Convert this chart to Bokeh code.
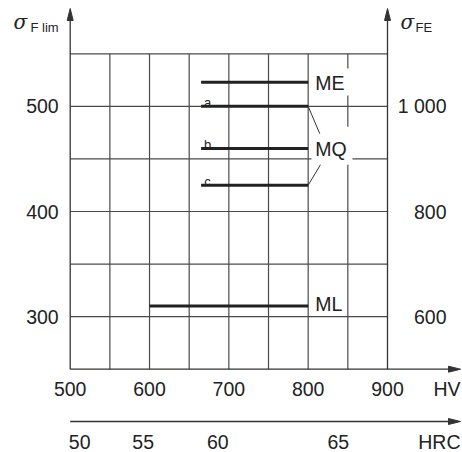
from bokeh.plotting import figure
from bokeh.models import Range1d
from bokeh.core.properties import value
from bokeh.embed import file_html
from bokeh.resources import INLINE

# ---------------- data ----------------
hv_grid = [500, 550, 600, 650, 700, 750, 800, 850, 900]
sigma_grid = [300, 350, 400, 450, 500, 550]
hv_ticks = [500, 600, 700, 800, 900]
sigma_ticks = [300, 400, 500]
sigma_fe_ticks = ["600", "800", "1 000"]
hrc_labels = ["50", "55", "60", "65"]
hrc_at_hv = [512, 592, 686, 838]

band_names = ["ME", "a", "b", "c", "ML"]
hv_from = [665, 665, 665, 665, 600]
hv_to = [800, 800, 800, 800, 800]
sigma_level = [523, 500, 460, 425, 310]

# ---------------- layout ----------------
W, H = 462, 452
PPX = 317.3 / 400.0       # px per HV
PPS = 315.4 / 300.0       # px per MPa
X0 = 500 - 69.7 / PPX
X1 = X0 + W / PPX
Y1 = 550 + 53.3 / PPS
Y0 = Y1 - H / PPS


def dx(px):
    return px / PPX


def dy(px):
    return px / PPS


FONT = value("Liberation Sans")
TC = "#222222"
GC = "#4a4a4a"
FS = "19.5px"

p = figure(width=W, height=H, x_range=Range1d(X0, X1), y_range=Range1d(Y0, Y1),
           output_backend="svg", toolbar_location=None, min_border=0,
           x_axis_type=None, y_axis_type=None, outline_line_color=None,
           background_fill_color="white", border_fill_color="white")
p.grid.visible = False

xmin, xmax = hv_grid[0], hv_grid[-1]
ymin = 250
ymax = sigma_grid[-1]
x_tip = X1 - dx(2)
y_tip = Y1 - dy(8)
hrc_y = ymin - dy(52.3)

# grid
p.segment(x0=hv_grid[1:-1], x1=hv_grid[1:-1], y0=[ymin] * 7, y1=[ymax] * 7,
          line_color=GC, line_width=1.2)
p.segment(x0=[xmin] * len(sigma_grid), x1=[xmax] * len(sigma_grid),
          y0=sigma_grid, y1=sigma_grid, line_color=GC, line_width=1.2)

# axes
AC = "#333333"
ah_len, ah_w = 12, 6
p.segment(x0=[xmin, xmax], x1=[xmin, xmax], y0=[ymin, ymin],
          y1=[y_tip - dy(ah_len - 1)] * 2, line_color=AC, line_width=1.3)
p.segment(x0=[xmin, xmin], x1=[x_tip - dx(ah_len - 1)] * 2, y0=[ymin, hrc_y],
          y1=[ymin, hrc_y], line_color=AC, line_width=1.3)
# arrow heads
p.patches(
    xs=[[xmin - dx(ah_w / 2), xmin + dx(ah_w / 2), xmin],
        [xmax - dx(ah_w / 2), xmax + dx(ah_w / 2), xmax],
        [x_tip - dx(ah_len), x_tip - dx(ah_len), x_tip],
        [x_tip - dx(ah_len), x_tip - dx(ah_len), x_tip]],
    ys=[[y_tip - dy(ah_len), y_tip - dy(ah_len), y_tip],
        [y_tip - dy(ah_len), y_tip - dy(ah_len), y_tip],
        [ymin - dy(ah_w / 2), ymin + dy(ah_w / 2), ymin],
        [hrc_y - dy(ah_w / 2), hrc_y + dy(ah_w / 2), hrc_y]],
    fill_color=AC, line_color=AC, line_width=1)

# white boxes behind labels ME / MQ
me_y = sigma_level[0]
mq_y = sigma_level[2]
p.quad(left=[800 + dx(3.5), 800 + dx(3.3)], right=[800 + dx(43), 800 + dx(44.3)],
       top=[me_y + dy(13.7), mq_y + dy(21.7)], bottom=[me_y - dy(13.3), mq_y - dy(16.3)],
       fill_color="white", line_color=None)

# material bands
p.segment(x0=hv_from, x1=hv_to, y0=sigma_level, y1=sigma_level,
          line_color=TC, line_width=3)

# leaders to MQ
p.segment(x0=[hv_to[1], hv_to[3]], y0=[sigma_level[1], sigma_level[3]],
          x1=[800 + dx(11.6), 800 + dx(12.3)], y1=[mq_y + dy(14.7), mq_y - dy(16.3)],
          line_color=AC, line_width=1)

# band labels
p.text(x=[800, 800, 800], y=[me_y, mq_y, sigma_level[4]], text=["ME", "MQ", "ML"],
       x_offset=7, y_offset=[1, 1, -2], text_font=FONT, text_font_size=FS,
       text_align="left", text_baseline="middle", text_color=TC)
p.text(x=[hv_from[1] + dx(6.5)] * 3, y=[v + dy(4) for v in sigma_level[1:4]],
       text=band_names[1:4], text_font=FONT, text_font_size="13px",
       text_align="center", text_baseline="alphabetic", text_color=TC)

# tick labels
p.text(x=[xmin] * 3, y=sigma_ticks, text=[str(v) for v in sigma_ticks],
       x_offset=-11.5, text_font=FONT, text_font_size=FS, text_align="right",
       text_baseline="middle", text_color=TC)
p.text(x=[xmax] * 3, y=sigma_ticks, text=sigma_fe_ticks,
       x_offset=59, text_font=FONT, text_font_size=FS, text_align="right",
       text_baseline="middle", text_color=TC)
p.text(x=hv_ticks, y=[ymin] * len(hv_ticks), text=[str(v) for v in hv_ticks],
       y_offset=20, text_font=FONT, text_font_size=FS, text_align="center",
       text_baseline="middle", text_color=TC)
p.text(x=hrc_at_hv, y=[hrc_y] * len(hrc_at_hv), text=hrc_labels,
       y_offset=20, text_font=FONT, text_font_size=FS, text_align="center",
       text_baseline="middle", text_color=TC)
p.text(x=[x_tip, x_tip], y=[ymin, hrc_y], text=["HV", "HRC"],
       y_offset=20, text_font=FONT, text_font_size=FS, text_align="right",
       text_baseline="middle", text_color=TC)

# axis titles
SIG = value("DejaVu Serif")
p.text(x=[xmin], y=[ymax], text=["σ"], x_offset=-43, y_offset=-31.5,
       text_font=SIG, text_font_style="italic", text_font_size="20px",
       text_align="right", text_baseline="alphabetic", text_color=TC)
p.text(x=[xmax], y=[ymax], text=["σ"], x_offset=13, y_offset=-31.5,
       text_font=SIG, text_font_style="italic", text_font_size="20px",
       text_align="left", text_baseline="alphabetic", text_color=TC)
p.text(x=[xmin], y=[ymax], text=["F lim"], x_offset=-11.5, y_offset=-26,
       text_font=FONT, text_font_size="13px", text_align="right",
       text_baseline="alphabetic", text_color=TC)
p.text(x=[xmax], y=[ymax], text=["FE"], x_offset=28, y_offset=-26,
       text_font=FONT, text_font_size="13px", text_align="left",
       text_baseline="alphabetic", text_color=TC)

open("out.html", "w").write(file_html(p, INLINE))
